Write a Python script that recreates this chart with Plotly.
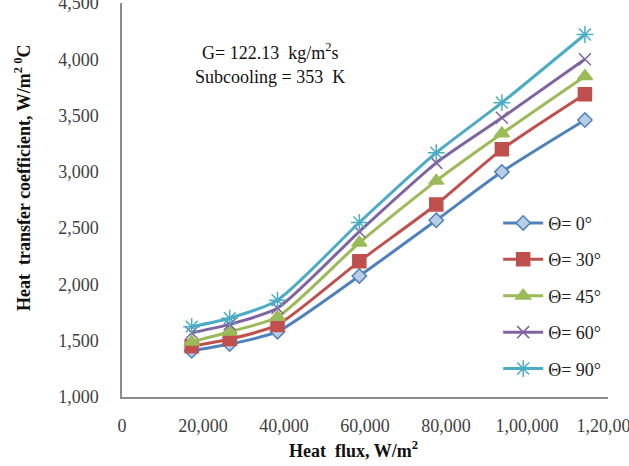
import plotly.graph_objects as go

heat_flux = [17200, 26600, 38400, 58600, 77600, 93800, 114300]
h_0 = [1410, 1470, 1580, 2075, 2570, 3000, 3460]
h_30 = [1450, 1515, 1640, 2205, 2710, 3200, 3690]
h_45 = [1490, 1580, 1710, 2370, 2920, 3340, 3850]
h_60 = [1570, 1645, 1790, 2470, 3080, 3480, 4000]
h_90 = [1625, 1700, 1860, 2550, 3170, 3615, 4220]

names = ["Θ= 0°", "Θ= 30°", "Θ= 45°", "Θ= 60°", "Θ= 90°"]
series = [h_0, h_30, h_45, h_60, h_90]
colors = ["#4F81BD", "#C0504D", "#9BBB59", "#8064A2", "#4BACC6"]
symbols = ["diamond", "square", "triangle-up", "x-thin-open", "asterisk-open"]
fills = ["#B9CDE5", "#C0504D", "#9BBB59", "#8064A2", "#4BACC6"]
sizes = [11, 13, 13, 12, 14]

x_ticks = [0, 20000, 40000, 60000, 80000, 100000, 120000]
x_ticktext = ["0", "20,000", "40,000", "60,000", "80,000", "1,00,000", "1,20,000"]
y_ticks = [1000, 1500, 2000, 2500, 3000, 3500, 4000, 4500]
y_ticktext = ["1,000", "1,500", "2,000", "2,500", "3,000", "3,500", "4,000", "4,500"]

fig = go.Figure()
for i, (nm, ys) in enumerate(zip(names, series)):
    fig.add_trace(go.Scatter(
        x=heat_flux, y=ys, name=nm, mode="lines+markers",
        line=dict(color=colors[i], width=3, shape="spline", smoothing=0.6),
        marker=dict(symbol=symbols[i], size=sizes[i], color=fills[i],
                    line=dict(color=colors[i], width=1.5)),
        legendgroup=nm,
    ))

font = "Liberation Serif, Times New Roman, serif"
fig.update_layout(
    width=629, height=466,
    margin=dict(l=122, r=21, t=3, b=69, autoexpand=False),
    paper_bgcolor="white", plot_bgcolor="white",
    font=dict(family=font, size=18, color="#404040"),
    showlegend=True,
    legend=dict(x=0.774, y=0.488, xanchor="left", yanchor="top",
                bgcolor="rgba(0,0,0,0)", font=dict(family=font, size=18, color="#222222"),
                traceorder="grouped", tracegroupgap=10, itemwidth=40),
    xaxis=dict(range=[0, 120000], tickvals=x_ticks, ticktext=x_ticktext, automargin=False,
               showgrid=False, zeroline=False, showline=True, linecolor="#8C8C8C",
               linewidth=1.5, ticks="", ticklabelstandoff=12, ticklabeloverflow="allow"),
    yaxis=dict(range=[1000, 4500], tickvals=y_ticks, ticktext=y_ticktext, automargin=False,
               showgrid=False, zeroline=False, showline=True, linecolor="#8C8C8C",
               linewidth=1.5, ticks="", ticklabelstandoff=18, ticklabeloverflow="allow"),
    annotations=[
        dict(text="G= 122.13  kg/m<sup>2</sup>s", x=270, y=52, showarrow=False,
             font=dict(family=font, size=18, color="#111111")),
        dict(text="Subcooling = 353  K", x=270, y=77, showarrow=False,
             font=dict(family=font, size=18, color="#111111")),
        dict(text="<b>Heat  transfer coefficient, W/m<sup>2 0</sup>C</b>", textangle=-90,
             x=22, y=178, showarrow=False, font=dict(family=font, size=18, color="#111111")),
        dict(text="<b>Heat  flux, W/m<sup>2</sup></b>", x=353, y=449, showarrow=False,
             font=dict(family=font, size=18, color="#111111")),
    ],
)

# convert pixel-positioned annotations to paper coordinates
L, R, T, B = 122, 629 - 21, 3, 466 - 69
anns = []
for a in fig.layout.annotations:
    px, py = a.x, a.y
    a.update(xref="paper", yref="paper",
             x=(px - L) / (R - L), y=(B - py) / (B - T),
             xanchor="center", yanchor="middle")
    anns.append(a)
fig.layout.annotations = anns

fig.write_html("out.html")
